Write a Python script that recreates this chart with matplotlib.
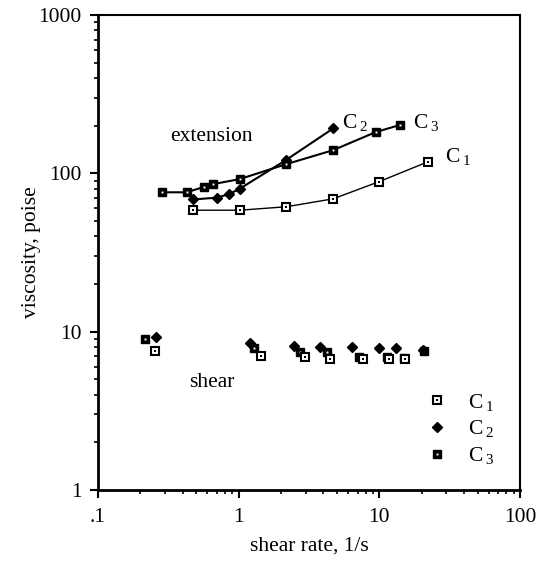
import matplotlib
matplotlib.use("Agg")
import matplotlib.pyplot as plt
from matplotlib.lines import Line2D
from matplotlib.legend_handler import HandlerTuple
from matplotlib.ticker import LogLocator, NullFormatter

plt.rcParams['font.family'] = ['Liberation Serif', 'DejaVu Serif']
plt.rcParams['mathtext.fontset'] = 'custom'
plt.rcParams['mathtext.rm'] = 'Liberation Serif'
plt.rcParams['mathtext.it'] = 'Liberation Serif'

# ---- data ----
# extensional viscosity
ext_c1_x = [0.475, 1.02, 2.18, 4.69, 10.0, 22.0]
ext_c1_y = [58.5, 58.5, 61.5, 69.0, 88.7, 118.0]
ext_c2_x = [0.475, 0.699, 0.858, 1.02, 2.16, 4.69]
ext_c2_y = [68.4, 70.2, 74.0, 80.0, 121.0, 192.0]
ext_c3_x = [0.283, 0.426, 0.566, 0.660, 1.02, 2.16, 4.69, 9.4, 14.0]
ext_c3_y = [75.9, 75.9, 82.0, 85.5, 92.0, 114.0, 140.0, 182.0, 202.0]
# shear viscosity
sh_c1_x = [0.255, 1.43, 2.98, 4.43, 7.69, 11.7, 15.2]
sh_c1_y = [7.6, 7.07, 6.89, 6.71, 6.71, 6.71, 6.75]
sh_c2_x = [0.26, 1.2, 2.47, 3.8, 6.42, 10.0, 13.2, 20.4]
sh_c2_y = [9.27, 8.47, 8.13, 8.05, 8.05, 7.85, 7.85, 7.7]
sh_c3_x = [0.215, 1.29, 2.73, 4.24, 7.19, 11.4, 15.0, 20.8]
sh_c3_y = [8.95, 7.85, 7.45, 7.4, 6.95, 6.95, 6.85, 7.55]

x_ticks = [0.1, 1, 10, 100]
x_ticklabels = ['.1', '1', '10', '100']
y_ticks = [1, 10, 100, 1000]
y_ticklabels = ['1', '10', '100', '1000']
series_labels = ['C$\\,_1$', 'C$\\,_2$', 'C$\\,_3$']

FS = 15.5

fig = plt.figure(figsize=(5.41, 5.61), dpi=100)
ax = fig.add_axes([98/541, 1-490/561, 422/541, 475/561])
ax.set_xscale('log')
ax.set_yscale('log')

C1_STYLE = dict(marker='s', ms=5.5, mfc='white', mec='black', mew=1.5, color='black')
C1_DOT = dict(marker='s', ms=1.6, color='black', mew=0)
C2_STYLE = dict(marker='D', ms=5, mfc='black', mec='black', color='black')
C3_STYLE = dict(marker='s', ms=6, mfc='black', mec='black', color='black')
C3_DOT = dict(marker='s', ms=1.4, color='white', mew=0)

def c1(x, y, **kw):
    ax.plot(x, y, **C1_STYLE, **kw)
    ax.plot(x, y, ls='none', **C1_DOT)

def c2(x, y, **kw):
    ax.plot(x, y, **C2_STYLE, **kw)

def c3(x, y, **kw):
    ax.plot(x, y, **C3_STYLE, **kw)
    ax.plot(x, y, ls='none', **C3_DOT)

c1(ext_c1_x, ext_c1_y, lw=1.0)
c2(ext_c2_x, ext_c2_y, lw=1.5)
c3(ext_c3_x, ext_c3_y, lw=1.5)

c3(sh_c3_x, sh_c3_y, ls='none')
c2(sh_c2_x, sh_c2_y, ls='none')
c1(sh_c1_x, sh_c1_y, ls='none')

ax.set_xlim(0.1, 100)
ax.set_ylim(1, 1000)

ax.set_xticks(x_ticks, x_ticklabels)
ax.set_yticks(y_ticks, y_ticklabels)
ax.xaxis.set_minor_locator(LogLocator(base=10, subs=range(2, 10), numticks=20))
ax.yaxis.set_minor_locator(LogLocator(base=10, subs=range(2, 10), numticks=20))
ax.xaxis.set_minor_formatter(NullFormatter())
ax.yaxis.set_minor_formatter(NullFormatter())
ax.tick_params(which='major', direction='out', length=6, width=1.5, labelsize=FS)
ax.tick_params(which='minor', direction='out', length=3, width=1.2)
ax.tick_params(axis='x', which='major', pad=7)
ax.tick_params(axis='y', which='major', pad=6)
for s in ax.spines.values():
    s.set_linewidth(1.5)
ax.spines['left'].set_linewidth(2)
ax.spines['bottom'].set_linewidth(2)

ax.set_xlabel('shear rate, 1/s', fontsize=FS, labelpad=7)
ax.set_ylabel('viscosity, poise', fontsize=FS, labelpad=-2)

ax.text(0.642, 172, 'extension', fontsize=FS, ha='center', va='center')
ax.text(0.642, 4.77, 'shear', fontsize=FS, ha='center', va='center')
ax.text(5.4, 209, series_labels[1], fontsize=FS, ha='left', va='center')
ax.text(17.4, 209, series_labels[2], fontsize=FS, ha='left', va='center')
ax.text(29.3, 128, series_labels[0], fontsize=FS, ha='left', va='center')

h1 = (Line2D([], [], ls='none', **C1_STYLE), Line2D([], [], ls='none', **C1_DOT))
h2 = Line2D([], [], ls='none', **C2_STYLE)
h3 = (Line2D([], [], ls='none', **C3_STYLE), Line2D([], [], ls='none', **C3_DOT))
ax.legend([h1, h2, h3], series_labels, loc='upper left',
          handler_map={tuple: HandlerTuple(ndivide=1)},
          bbox_to_anchor=(0.783, 0.207), frameon=False, fontsize=FS,
          handlelength=0.8, handletextpad=1.05, borderpad=0, borderaxespad=0,
          labelspacing=0.27)

fig.savefig('out.png', dpi=100)
